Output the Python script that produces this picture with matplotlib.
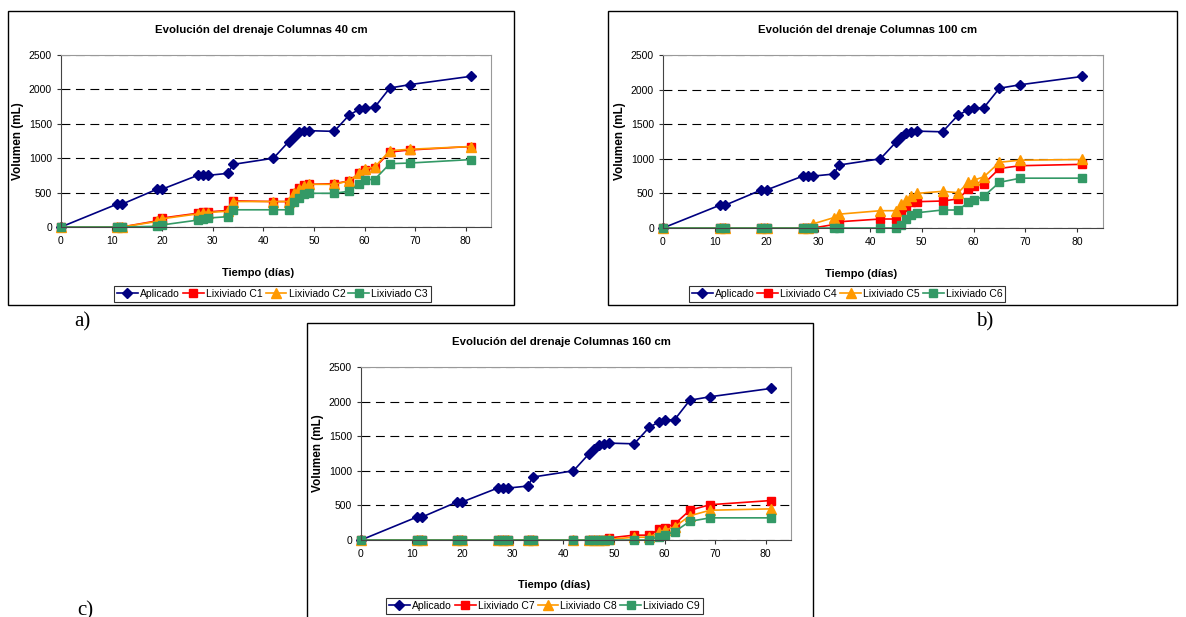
import matplotlib
matplotlib.use('Agg')
import matplotlib.pyplot as plt
from matplotlib.patches import Rectangle

plt.rcParams['font.family'] = ['Liberation Sans', 'DejaVu Sans']

W, H = 1186, 617

# days of measurement
dias = [0, 11, 12, 19, 20, 27, 28, 29, 33, 34, 42, 45, 46, 47, 48, 49, 54, 57, 59, 60, 62, 65, 69, 81]

aplicado = [0, 330, 330, 550, 550, 750, 750, 750, 780, 910, 1000, 1240, 1310, 1380, 1390, 1400,
            1390, 1630, 1710, 1730, 1740, 2020, 2070, 2190]

# 40 cm columns
c1 = [0, 0, 0, 90, 130, 200, 220, 220, 240, 380, 370, 370, 500, 560, 610, 620, 630, 670, 780, 830, 860, 1090, 1120, 1170]
c2 = [0, 0, 0, 80, 120, 190, 210, 210, 230, 370, 370, 370, 490, 550, 600, 620, 620, 670, 790, 850, 870, 1110, 1130, 1170]
c3 = [0, 0, 0, 10, 30, 100, 120, 130, 150, 250, 250, 250, 360, 420, 480, 490, 490, 520, 630, 690, 690, 920, 930, 980]

# 100 cm columns
c4 = [0, 0, 0, 0, 0, 0, 0, 0, 50, 90, 130, 130, 250, 300, 370, 380, 390, 420, 560, 600, 640, 860, 900, 920]
c5 = [0, 0, 0, 0, 0, 0, 0, 60, 150, 200, 250, 250, 350, 410, 460, 500, 530, 510, 660, 690, 740, 950, 980, 990]
c6 = [0, 0, 0, 0, 0, 0, 0, 0, 0, 0, 0, 0, 50, 130, 190, 220, 260, 260, 370, 400, 460, 660, 720, 720]

# 160 cm columns
c7 = [0, 0, 0, 0, 0, 0, 0, 0, 0, 0, 0, 0, 0, 0, 0, 30, 70, 70, 160, 180, 230, 430, 510, 570]
c8 = [0, 0, 0, 0, 0, 0, 0, 0, 0, 0, 0, 0, 0, 0, 0, 10, 40, 40, 120, 140, 190, 350, 430, 450]
c9 = [0, 0, 0, 0, 0, 0, 0, 0, 0, 0, 0, 0, 0, 0, 0, 0, 0, 0, 50, 70, 120, 270, 320, 320]

colores = ['#000080', '#FF0000', '#FF9900', '#339966']
marcadores = ['D', 's', '^', 's']
tamanos = [5, 6, 6.5, 6]


def px_rect(l, t, r, b):
    return [l / W, 1 - b / H, (r - l) / W, (b - t) / H]


def panel(fig, box, ax_px, titulo, series, nombres, title_x, xlab_x, leg_box, ylab_x, xlab_y, leg_y):
    bl, bt, br, bb = box
    fig.patches.append(Rectangle((bl / W, 1 - bb / H), (br - bl) / W, (bb - bt) / H,
                                 transform=fig.transFigure, fill=False, ec='black', lw=1.0))
    ax = fig.add_axes(px_rect(*ax_px))
    for y, nom, col, mk, ms in zip(series, nombres, colores, marcadores, tamanos):
        ax.plot(dias, y, color=col, marker=mk, markersize=ms, lw=1.2, label=nom, clip_on=False)
    ax.set_xlim(0, 85)
    ax.set_ylim(0, 2500)
    ax.set_xticks(range(0, 81, 10))
    ax.set_yticks(range(0, 2501, 500))
    ax.tick_params(labelsize=7.5, length=3, width=0.8, colors='#333333', labelcolor='black')
    ax.yaxis.grid(True, color='black', linestyle=(0, (8, 5)), lw=0.8)
    ax.set_axisbelow(True)
    for s in ['top', 'right']:
        ax.spines[s].set_color('#999999')
    for s in ['left', 'bottom']:
        ax.spines[s].set_color('#444444')
    fig.text(title_x / W, 1 - (bt + 19) / H, titulo, ha='center', va='center',
             fontsize=8.2, fontweight='bold')
    fig.text(xlab_x / W, 1 - xlab_y / H, 'Tiempo (días)', ha='center', va='center',
             fontsize=8, fontweight='bold')
    fig.text(ylab_x / W, 1 - (ax_px[1] + ax_px[3]) / 2 / H, 'Volumen (mL)', ha='center',
             va='center', rotation=90, fontsize=8.5, fontweight='bold')
    leg = fig.legend(*ax.get_legend_handles_labels(), loc='center',
                     bbox_to_anchor=((leg_box[0] + leg_box[1]) / 2 / W, 1 - leg_y / H),
                     ncol=4, fontsize=7.5, frameon=True, fancybox=False, edgecolor='black',
                     handlelength=2.0, handletextpad=0.2, columnspacing=0.3,
                     borderpad=0.3, borderaxespad=0)
    leg.get_frame().set_linewidth(0.8)
    return ax


fig = plt.figure(figsize=(W / 100, H / 100), dpi=100)

panel(fig, (8, 11, 514, 305), (61, 55, 491, 227), 'Evolución del drenaje Columnas 40 cm',
      [aplicado, c1, c2, c3], ['Aplicado', 'Lixiviado C1', 'Lixiviado C2', 'Lixiviado C3'],
      261, 258, (116, 429), 18, 273, 294)
panel(fig, (608, 11, 1177, 305), (663, 55, 1103, 228), 'Evolución del drenaje Columnas 100 cm',
      [aplicado, c4, c5, c6], ['Aplicado', 'Lixiviado C4', 'Lixiviado C5', 'Lixiviado C6'],
      868, 861, (687, 1007), 620, 274, 294)
panel(fig, (307, 323, 813, 640), (361, 367, 791, 540), 'Evolución del drenaje Columnas 160 cm',
      [aplicado, c7, c8, c9], ['Aplicado', 'Lixiviado C7', 'Lixiviado C8', 'Lixiviado C9'],
      561, 554, (388, 701), 318, 585, 606)

fig.text(82 / W, 1 - 322 / H, 'a)', family='Liberation Serif', fontsize=15, ha='center', va='center')
fig.text(985 / W, 1 - 322 / H, 'b)', family='Liberation Serif', fontsize=15, ha='center', va='center')
fig.text(85 / W, 1 - 611 / H, 'c)', family='Liberation Serif', fontsize=15, ha='center', va='center')

fig.savefig('out.png', dpi=100)
